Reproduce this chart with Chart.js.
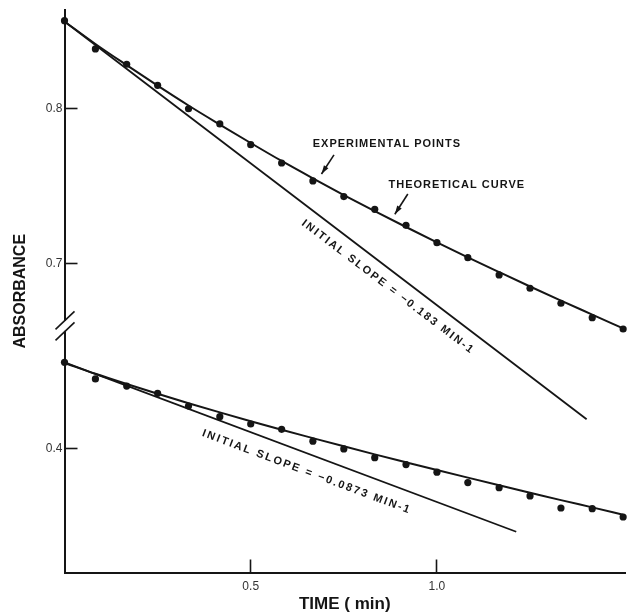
<!DOCTYPE html>
<html lang="en">
<head>
<meta charset="UTF-8">
<title>Absorbance vs time</title>
<script src="https://cdn.jsdelivr.net/npm/chart.js"></script>
<style>
  body { margin: 0; background: #fff; }
  #wrap { width: 638px; height: 615px; }
</style>
</head>
<body>
<div id="wrap"><canvas id="absChart" width="638" height="615"></canvas></div>
<script>
// one reading every 5 s, time in minutes
const timeMin = [0, 0.083, 0.167, 0.25, 0.333, 0.417, 0.5, 0.583, 0.667, 0.75, 0.833, 0.917, 1.0, 1.083, 1.167, 1.25, 1.333, 1.417, 1.5];

// upper run
const upperPoints = [0.8565, 0.8383, 0.8284, 0.8148, 0.7997, 0.7899, 0.7765, 0.7647, 0.7531, 0.7430, 0.7348, 0.7245, 0.7133, 0.7036, 0.6925, 0.6839, 0.6742, 0.6649, 0.6576];
const upperCurve = [0.8560, 0.8415, 0.8278, 0.8146, 0.8018, 0.7895, 0.7776, 0.7660, 0.7548, 0.7440, 0.7336, 0.7234, 0.7135, 0.7038, 0.6943, 0.6850, 0.6759, 0.6669, 0.6580];

// lower run
const lowerPoints = [0.4559, 0.4452, 0.4406, 0.4359, 0.4277, 0.4208, 0.4161, 0.4127, 0.4050, 0.4000, 0.3944, 0.3899, 0.3850, 0.3783, 0.3750, 0.3697, 0.3619, 0.3615, 0.3561];
const lowerCurve = [0.4555, 0.4485, 0.4419, 0.4356, 0.4295, 0.4236, 0.4179, 0.4124, 0.4070, 0.4017, 0.3965, 0.3914, 0.3864, 0.3815, 0.3766, 0.3718, 0.3670, 0.3623, 0.3576];

// initial slope lines (start, end)
const upperSlopeTime = [0, 1.402];
const upperSlopeAbs = [0.856, 0.5994];
const lowerSlopeTime = [0, 1.213];
const lowerSlopeAbs = [0.4559, 0.3466];

// tick labels
const xTicks = [0.5, 1.0];
const upperTicks = [0.7, 0.8];
const lowerTicks = [0.4];

// broken axis: two ranges of same height, lower one shifted
const upperRange = [0.5005, 0.8634];
const lowerRange = [0.3203, 0.6832];
const axisShift = upperRange[0] - lowerRange[0];
const breakAt = 0.6596;

const ink = '#151515';
const family = '"Liberation Sans", Arial, sans-serif';

function pair(xs, ys) {
    return xs.map(function (x, i) { return { x: x, y: ys[i] }; });
}

const notes = [
    { text: 'EXPERIMENTAL POINTS', axis: 'y', at: [0.6666, 0.7770], arrow: [[0.7236, 0.7699], [0.690, 0.7576]] },
    { text: 'THEORETICAL CURVE', axis: 'y', at: [0.870, 0.7505], arrow: [[0.9218, 0.7447], [0.887, 0.7316]] },
    { text: 'INITIAL SLOPE = \u22120.183 MIN-1', axis: 'y', at: [0.640, 0.7266], along: 2 },
    { text: 'INITIAL SLOPE = \u22120.0873 MIN-1', axis: 'y2', at: [0.371, 0.4103], along: 5 }
];

const notesPlugin = {
    id: 'notes',
    afterDraw(chart) {
        const ctx = chart.ctx;
        const sx = chart.scales.x;
        ctx.save();
        ctx.fillStyle = ink;
        ctx.strokeStyle = ink;
        ctx.font = 'bold 11px ' + family;
        ctx.textBaseline = 'middle';
        ctx.textAlign = 'left';
        notes.forEach(function (n) {
            const sy = chart.scales[n.axis];
            const px = sx.getPixelForValue(n.at[0]);
            const py = sy.getPixelForValue(n.at[1]);
            ctx.save();
            ctx.translate(px, py);
            if (n.along !== undefined) {
                const d = chart.getDatasetMeta(n.along).data;
                ctx.rotate(Math.atan2(d[1].y - d[0].y, d[1].x - d[0].x));
                ctx.letterSpacing = '2px';
            } else {
                ctx.letterSpacing = '1px';
            }
            ctx.fillText(n.text, 0, 0);
            ctx.restore();
            if (n.arrow) {
                const x1 = sx.getPixelForValue(n.arrow[0][0]), y1 = sy.getPixelForValue(n.arrow[0][1]);
                const x2 = sx.getPixelForValue(n.arrow[1][0]), y2 = sy.getPixelForValue(n.arrow[1][1]);
                const a = Math.atan2(y2 - y1, x2 - x1);
                ctx.lineWidth = 1.6;
                ctx.beginPath();
                ctx.moveTo(x1, y1);
                ctx.lineTo(x2, y2);
                ctx.stroke();
                ctx.beginPath();
                ctx.moveTo(x2, y2);
                ctx.lineTo(x2 - 9 * Math.cos(a - 0.3), y2 - 9 * Math.sin(a - 0.3));
                ctx.lineTo(x2 - 9 * Math.cos(a + 0.3), y2 - 9 * Math.sin(a + 0.3));
                ctx.closePath();
                ctx.fill();
            }
        });

        // axis break
        const ax = chart.scales.y.right;
        const by = chart.scales.y.getPixelForValue(breakAt);
        ctx.fillStyle = '#fff';
        ctx.fillRect(ax - 3, by - 5, 6, 10);
        ctx.lineWidth = 1.6;
        [-5.5, 5.5].forEach(function (o) {
            ctx.beginPath();
            ctx.moveTo(ax - 9, by + o + 9);
            ctx.lineTo(ax + 10, by + o - 9);
            ctx.stroke();
        });
        ctx.restore();
    }
};

const lineStyle = { showLine: true, borderColor: ink, pointRadius: 0, clip: false };
const dotStyle = { showLine: false, pointRadius: 3.6, pointBackgroundColor: ink, pointBorderWidth: 0, clip: false };

new Chart(document.getElementById('absChart'), {
    type: 'scatter',
    data: {
        datasets: [
            Object.assign({ label: 'upper points', data: pair(timeMin, upperPoints), yAxisID: 'y' }, dotStyle),
            Object.assign({ label: 'upper curve', data: pair(timeMin, upperCurve), yAxisID: 'y', borderWidth: 2, cubicInterpolationMode: 'monotone' }, lineStyle),
            Object.assign({ label: 'upper slope', data: pair(upperSlopeTime, upperSlopeAbs), yAxisID: 'y', borderWidth: 1.8 }, lineStyle),
            Object.assign({ label: 'lower points', data: pair(timeMin, lowerPoints), yAxisID: 'y2' }, dotStyle),
            Object.assign({ label: 'lower curve', data: pair(timeMin, lowerCurve), yAxisID: 'y2', borderWidth: 2, cubicInterpolationMode: 'monotone' }, lineStyle),
            Object.assign({ label: 'lower slope', data: pair(lowerSlopeTime, lowerSlopeAbs), yAxisID: 'y2', borderWidth: 1.8 }, lineStyle)
        ]
    },
    options: {
        responsive: false,
        animation: false,
        devicePixelRatio: 1,
        layout: { autoPadding: false, padding: { top: 10, right: 13, left: 0, bottom: 0 } },
        plugins: { legend: { display: false }, tooltip: { enabled: false } },
        scales: {
            x: {
                type: 'linear', min: 0, max: 1.505,
                afterBuildTicks: function (s) { s.ticks = xTicks.map(function (v) { return { value: v }; }); },
                afterFit: function (s) { s.height = 42.5; s.paddingLeft = 0; s.paddingRight = 0; },
                grid: { drawOnChartArea: false, tickLength: -13, tickWidth: 1.6, tickColor: ink },
                border: { display: true, color: ink, width: 2 },
                ticks: {
                    padding: 20, color: '#333', autoSkip: false, maxRotation: 0,
                    font: { family: family, size: 12 },
                    callback: function (v) { return v.toFixed(1); }
                },
                title: { display: true, text: 'TIME ( min)', color: ink, font: { family: family, size: 17, weight: 'bold' }, padding: { top: 0, bottom: 0 } }
            },
            y: {
                type: 'linear', position: 'left', min: upperRange[0], max: upperRange[1],
                afterBuildTicks: function (s) {
                    s.ticks = lowerTicks.map(function (v) { return { value: v + axisShift }; })
                        .concat(upperTicks.map(function (v) { return { value: v }; }));
                },
                afterFit: function (s) { s.width = 64.5; s.paddingTop = 0; s.paddingBottom = 0; },
                grid: { drawOnChartArea: false, tickLength: -13, tickWidth: 1.6, tickColor: ink },
                border: { display: true, color: ink, width: 2 },
                ticks: {
                    padding: 15, color: '#333', autoSkip: false,
                    font: { family: family, size: 12 },
                    callback: function (v) { return (v < breakAt ? v - axisShift : v).toFixed(1); }
                },
                title: { display: true, text: 'ABSORBANCE', color: ink, font: { family: family, size: 16, weight: 'bold' }, padding: { top: 11, bottom: 0 } }
            },
            y2: { type: 'linear', display: false, min: lowerRange[0], max: lowerRange[1] }
        }
    },
    plugins: [notesPlugin]
});
</script>
</body>
</html>
